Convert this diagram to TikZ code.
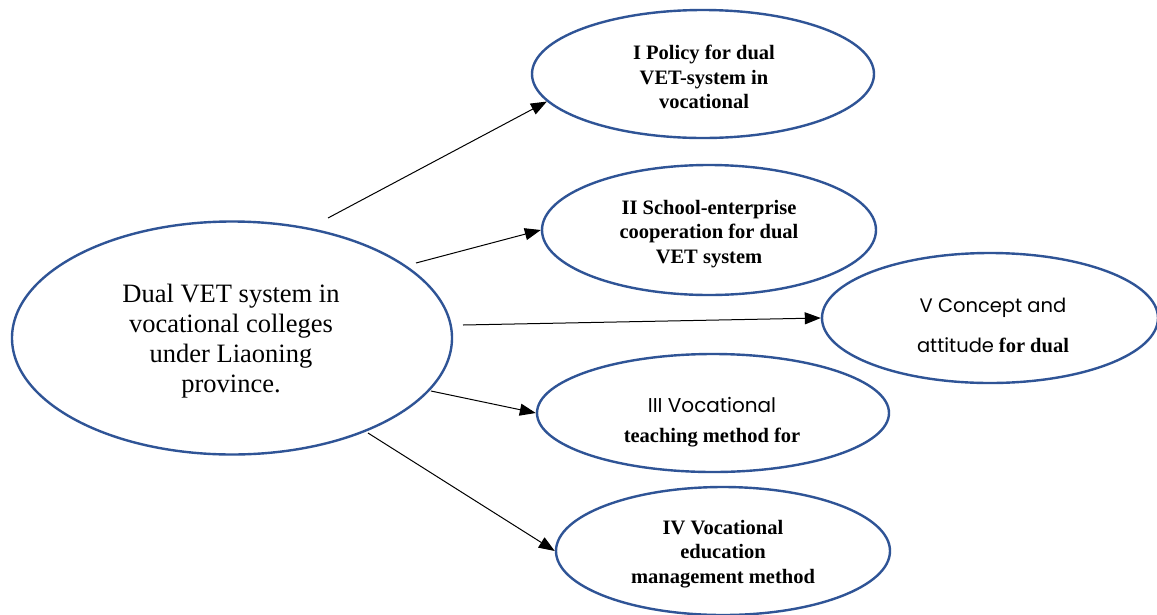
\documentclass[tikz,border=0pt]{standalone}
\usepackage{fontspec}
\setmainfont{Liberation Serif}
\newfontfamily\comicfont{Poppins}
\usetikzlibrary{shapes.geometric,arrows.meta}
\definecolor{ellblue}{RGB}{47,84,150}
\tikzset{
  oval/.style={draw=ellblue, line width=2.4pt, ellipse, inner sep=0pt},
  conn/.style={line width=1pt, -{Triangle[length=16pt,width=12pt]}},
  boldtxt/.style={align=center, font=\fontsize{20.5}{24.5}\selectfont\bfseries},
  maintxt/.style={align=center, font=\fontsize{26.5}{30}\selectfont},
}
\begin{document}
\begin{tikzpicture}[x=1pt,y=-1pt]
\useasboundingbox (0,0) rectangle (1157,614);
\fill[white] (0,0) rectangle (1157,614);
% ellipses
\node[oval, minimum width=440pt, minimum height=233pt] (main) at (232,338) {};
\node[oval, minimum width=342pt, minimum height=128pt] (e1) at (703,74) {};
\node[oval, minimum width=334pt, minimum height=130pt] (e2) at (709,230) {};
\node[oval, minimum width=336pt, minimum height=130pt] (e5) at (990,318) {};
\node[oval, minimum width=352pt, minimum height=118pt] (e3) at (713,413) {};
\node[oval, minimum width=334pt, minimum height=128pt] (e4) at (723,551) {};
% texts
\node[maintxt] (tmain) at (231,341) {Dual VET system in\\vocational colleges\\under Liaoning\\province.};
\node[boldtxt] (t1) at (704,77) {I Policy for dual\\VET-system in\\vocational};
\node[boldtxt] (t2) at (709,234) {II School-enterprise\\cooperation for dual\\VET system};
\node[align=center, font=\fontsize{19.5}{40}\selectfont] (t5) at (993,325) {{\comicfont V Concept and}\\{\comicfont attitude} {\fontsize{20.5}{40}\selectfont\bfseries for dual}};
\node[align=center, font=\fontsize{20}{30}\selectfont] (t3) at (712,422) {{\comicfont III Vocational}\\{\fontsize{20.5}{30}\selectfont\bfseries teaching method for}};
\node[boldtxt] (t4) at (723,554) {IV Vocational\\education\\management method};
% connectors
\coordinate (s1) at (328,218);
\coordinate (s2) at (416,263);
\coordinate (s3) at (463,325);
\coordinate (s4) at (431,391);
\coordinate (s5) at (368,433);
\draw[conn] (s1) -- (e1.190);
\draw[conn] (s2) -- (e2.west);
\draw[conn] (s3) -- (e5.west);
\draw[conn] (s4) -- (e3.west);
\draw[conn] (s5) -- (e4.west);
\end{tikzpicture}
\end{document}
